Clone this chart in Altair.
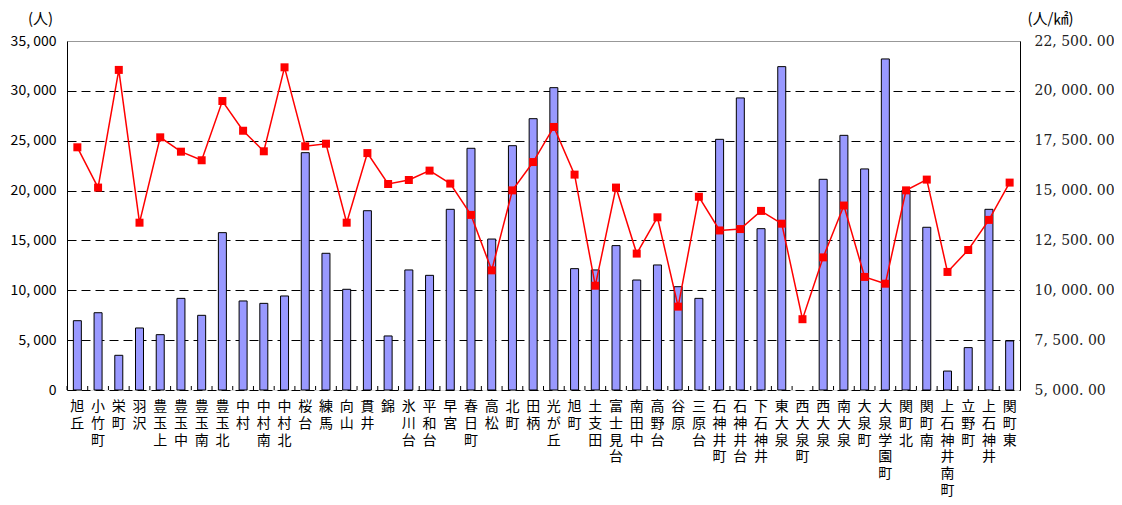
import altair as alt
import pandas as pd

CATS = ["旭丘", "小竹町", "栄町", "羽沢", "豊玉上", "豊玉中", "豊玉南", "豊玉北", "中村", "中村南",
        "中村北", "桜台", "練馬", "向山", "貫井", "錦", "氷川台", "平和台", "早宮", "春日町",
        "高松", "北町", "田柄", "光が丘", "旭町", "土支田", "富士見台", "南田中", "高野台", "谷原",
        "三原台", "石神井町", "石神井台", "下石神井", "東大泉", "西大泉町", "西大泉", "南大泉", "大泉町", "大泉学園町",
        "関町北", "関町南", "上石神井南町", "立野町", "上石神井", "関町東"]

POP = [6950, 7750, 3480, 6220, 5550, 9190, 7490, 15780, 8930, 8690,
       9430, 23800, 13710, 10100, 17980, 5420, 12040, 11500, 18120, 24240,
       15140, 24500, 27210, 30320, 12170, 12040, 14480, 11030, 12540, 10360,
       9190, 25140, 29290, 16180, 32430, None, 21130, 25540, 22170, 33200,
       20060, 16320, 1900, 4250, 18120, 4920]

DENS = [17170, 15150, 21050, 13390, 17670, 16950, 16520, 19490, 18000, 16970,
        21180, 17220, 17350, 13390, 16880, 15330, 15530, 16000, 15350, 13780,
        11000, 15010, 16430, 18190, 15800, 10230, 15150, 11840, 13660, 9180,
        14690, 13000, 13070, 13980, 13340, 8550, 11650, 14250, 10670, 10330,
        15010, 15550, 10920, 12020, 13530, 15400]

LEFT_TICKS = [0, 5000, 10000, 15000, 20000, 25000, 30000, 35000]
RIGHT_TICKS = [5000, 7500, 10000, 12500, 15000, 17500, 20000, 22500]

df = pd.DataFrame({
    "cat": CATS, "pop": POP, "dens": DENS, "idx": list(range(len(CATS))),
    "vlabel": ["\n".join(list(c)) for c in CATS],
})

JP = "Noto Sans CJK JP"
W, H = 953, 349

xscale = alt.Scale(paddingInner=0, paddingOuter=0)

x_main = alt.X("cat:N", sort=CATS, scale=xscale, title=None,
               axis=alt.Axis(labels=False, ticks=False, domainColor="black", domainWidth=1))

bars = alt.Chart(df).mark_bar(size=8, fill="#9999FF", stroke="black", strokeWidth=1).encode(
    x=x_main,
    y=alt.Y("pop:Q", scale=alt.Scale(domain=[0, 35000], nice=False),
            axis=alt.Axis(values=LEFT_TICKS, title="(人)", titleAngle=0, titleFont=JP,
                          titleFontSize=15, titleFontWeight="normal", titleColor="black",
                          titleX=-27, titleY=-23, titleAlign="center", titleBaseline="middle",
                          labelFont=JP, labelFontSize=14, labelColor="black", labelPadding=11,
                          labelExpr="replace(format(datum.value, ','), ',', ', ')",
                          ticks=False, domainColor="black",
                          grid=True, gridWidth=1,
                          gridColor={"condition": {"test": "datum.value >= 35000", "value": "#808080"}, "value": "#000000"},
                          gridDash={"condition": {"test": "datum.value >= 35000", "value": [1, 0]}, "value": [9, 5]})),
)

x_noax = alt.X("cat:N", sort=CATS, scale=xscale, axis=None)

y_right = alt.Y("dens:Q", scale=alt.Scale(domain=[5000, 22500], nice=False),
                axis=alt.Axis(orient="right", values=RIGHT_TICKS, title="(人/㎢)", titleAngle=0,
                              titleFont=JP, titleFontSize=15, titleFontWeight="normal",
                              titleColor="black", titleX=30, titleY=-23, titleAlign="center",
                              titleBaseline="middle",
                              labelFont="DejaVu Serif", labelFontSize=14, labelColor="#222222",
                              labelPadding=14,
                              labelExpr="replace(replace(format(datum.value, ',.2f'), ',', ', '), '.', '. ')",
                              ticks=False, domainColor="black", grid=False))

line = alt.Chart(df).mark_line(color="#FF0000", strokeWidth=1.5).encode(
    x=x_noax, y=y_right, order="idx:Q")

pts = alt.Chart(df).mark_point(shape="square", filled=True, size=64, color="#FF0000", opacity=1).encode(
    x=x_noax,
    y=alt.Y("dens:Q", scale=alt.Scale(domain=[5000, 22500], nice=False), axis=None))

ticks = alt.Chart(df).mark_rule(color="black", strokeWidth=1).encode(
    x=alt.X("cat:N", sort=CATS, scale=xscale, axis=None, bandPosition=0),
    y=alt.value(H - 4), y2=alt.value(H))

xlabels = alt.Chart(df).mark_text(font=JP, fontSize=14, color="black", baseline="top",
                                  align="center", lineBreak="\n", lineHeight=16.8).encode(
    x=x_noax, y=alt.value(H + 10), text="vlabel:N")

chart = alt.layer(bars, ticks, line, pts, xlabels).resolve_scale(y="independent").properties(
    width=W, height=H,
    padding={"left": 59, "top": 33, "right": 94, "bottom": 107},
    autosize=alt.AutoSizeParams(type="none"),
).configure_view(stroke="#808080", strokeWidth=1).configure(background="white")

chart.save("out.html", embed_options={"renderer": "svg", "actions": False})
